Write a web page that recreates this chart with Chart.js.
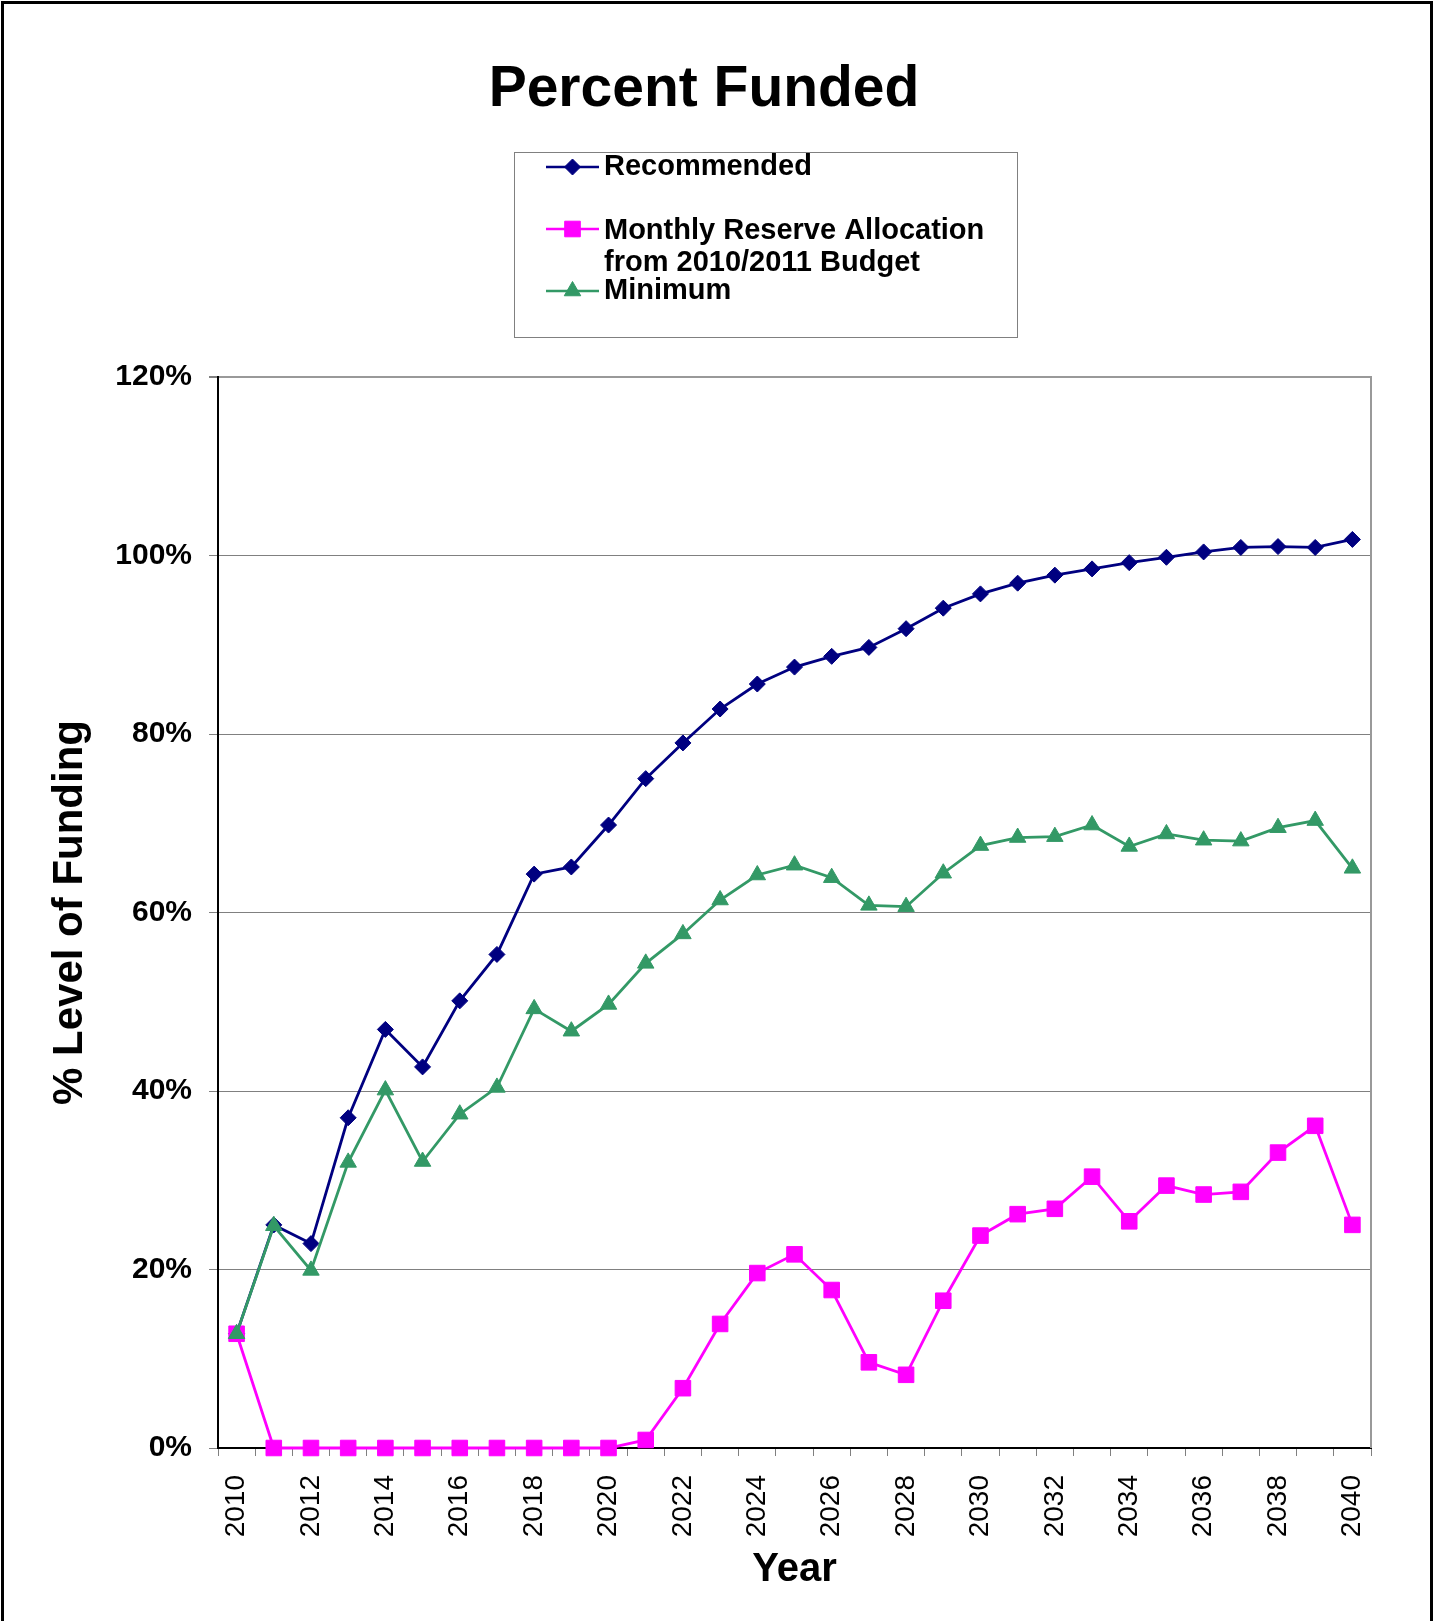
<!DOCTYPE html>
<html>
<head>
<meta charset="utf-8">
<title>Percent Funded</title>
<script src="https://cdn.jsdelivr.net/npm/chart.js@4.4.1/dist/chart.umd.min.js"></script>
<style>
  html, body { margin: 0; padding: 0; background: #ffffff; }
  #wrap { position: relative; width: 1435px; height: 1621px; }
  canvas { display: block; }
</style>
</head>
<body>
<div id="wrap"><canvas id="chart" width="1435" height="1621" style="width:1435px;height:1621px"></canvas></div>
<script>
// Fiscal years on the category axis
const years = [2010, 2011, 2012, 2013, 2014, 2015, 2016, 2017, 2018, 2019, 2020,
               2021, 2022, 2023, 2024, 2025, 2026, 2027, 2028, 2029, 2030,
               2031, 2032, 2033, 2034, 2035, 2036, 2037, 2038, 2039, 2040];

// Percent funded under each funding plan
const recommended = [12.8, 25.0, 22.9, 37.0, 46.9, 42.7, 50.1, 55.3, 64.3, 65.1, 69.8,
                     75.0, 79.0, 82.8, 85.6, 87.5, 88.7, 89.7, 91.8, 94.1, 95.7,
                     96.9, 97.8, 98.5, 99.2, 99.8, 100.4, 100.9, 101.0, 100.9, 101.8];

const monthlyReserve = [12.8, 0, 0, 0, 0, 0, 0, 0, 0, 0, 0,
                        0.9, 6.7, 13.9, 19.6, 21.7, 17.7, 9.6, 8.2, 16.5, 23.8,
                        26.2, 26.8, 30.4, 25.4, 29.4, 28.4, 28.7, 33.1, 36.1, 25.0];

const minimum = [12.8, 24.9, 19.9, 32.0, 40.1, 32.1, 37.4, 40.4, 49.2, 46.7, 49.7,
                 54.3, 57.6, 61.4, 64.2, 65.3, 63.9, 60.8, 60.65, 64.4, 67.5,
                 68.4, 68.5, 69.8, 67.4, 68.8, 68.1, 68.0, 69.5, 70.3, 64.95];

// Y axis range and tick step (percent)
const yMin = 0;
const yMax = 120;
const yStep = 20;

// Series names shown in the legend (second entry wraps onto two lines)
const seriesNames = [
  ['Recommended'],
  ['Monthly Reserve Allocation', 'from 2010/2011 Budget'],
  ['Minimum']
];

const FONT = '"Liberation Sans", Arial, Helvetica, sans-serif';
const NAVY = '#000080';
const MAGENTA = '#FF00FF';
const GREEN = '#339966';

function drawMarker(ctx, shape, x, y, color) {
  ctx.save();
  ctx.fillStyle = color;
  ctx.strokeStyle = color;
  ctx.lineWidth = 1;
  ctx.beginPath();
  if (shape === 'rectRot') {
    const r = 8;
    ctx.moveTo(x, y - r); ctx.lineTo(x + r, y); ctx.lineTo(x, y + r); ctx.lineTo(x - r, y);
  } else if (shape === 'rect') {
    const h = 7.8;
    ctx.rect(x - h, y - h, 2 * h, 2 * h);
  } else {
    const r = 9.5;
    ctx.moveTo(x, y - r);
    ctx.lineTo(x + r * Math.sin(2 * Math.PI / 3), y - r * Math.cos(2 * Math.PI / 3));
    ctx.lineTo(x + r * Math.sin(4 * Math.PI / 3), y - r * Math.cos(4 * Math.PI / 3));
  }
  ctx.closePath();
  ctx.fill();
  ctx.stroke();
  ctx.restore();
}

// Frame, heading, legend box and plot-area right edge
const decorations = {
  id: 'decorations',
  beforeDraw(chart) {
    const ctx = chart.ctx;
    ctx.save();
    ctx.fillStyle = '#ffffff';
    ctx.fillRect(0, 0, chart.width, chart.height);

    // outer frame (open at the bottom)
    ctx.strokeStyle = '#000000';
    ctx.lineWidth = 3;
    ctx.beginPath();
    ctx.moveTo(2.5, chart.height);
    ctx.lineTo(2.5, 2.5);
    ctx.lineTo(1431.5, 2.5);
    ctx.lineTo(1431.5, chart.height);
    ctx.stroke();

    // heading
    ctx.fillStyle = '#000000';
    ctx.font = 'bold 57px ' + FONT;
    ctx.textAlign = 'center';
    ctx.textBaseline = 'alphabetic';
    ctx.fillText('Percent Funded', 704, 106);

    // legend
    ctx.strokeStyle = '#808080';
    ctx.lineWidth = 1;
    ctx.strokeRect(514.5, 152.5, 503, 185);

    const ds = chart.data.datasets;
    const rows = [
      { markerY: 167, textY: [167] },
      { markerY: 229, textY: [231, 263] },
      { markerY: 291, textY: [291] }
    ];
    rows.forEach((row, i) => {
      const d = ds[i];
      ctx.strokeStyle = d.borderColor;
      ctx.lineWidth = 2.5;
      ctx.beginPath();
      ctx.moveTo(546, row.markerY);
      ctx.lineTo(599, row.markerY);
      ctx.stroke();
      drawMarker(ctx, d.pointStyle, 572.5, row.markerY, d.borderColor);
      ctx.fillStyle = '#000000';
      ctx.font = 'bold 29px ' + FONT;
      ctx.textAlign = 'left';
      ctx.textBaseline = 'middle';
      seriesNames[i].forEach((line, k) => ctx.fillText(line, 604, row.textY[k]));
    });
    ctx.restore();
  },
  beforeDatasetsDraw(chart) {
    const { ctx, chartArea } = chart;
    ctx.save();
    ctx.strokeStyle = '#999999';
    ctx.lineWidth = 2;
    ctx.beginPath();
    ctx.moveTo(chartArea.right, chartArea.top - 1);
    ctx.lineTo(chartArea.right, chartArea.bottom);
    ctx.stroke();
    ctx.restore();
  }
};

const lineDataset = (label, data, color, shape, radius, order) => ({
  label,
  data,
  borderColor: color,
  backgroundColor: color,
  borderWidth: 2.8,
  pointStyle: shape,
  pointRadius: radius,
  pointHoverRadius: radius,
  pointBorderWidth: 1,
  pointBackgroundColor: color,
  pointBorderColor: color,
  tension: 0,
  clip: false,
  order
});

new Chart(document.getElementById('chart'), {
  type: 'line',
  data: {
    labels: years.map(String),
    datasets: [
      lineDataset(seriesNames[0].join(' '), recommended, NAVY, 'rectRot', 8, 3),
      lineDataset(seriesNames[1].join(' '), monthlyReserve, MAGENTA, 'rect', 11, 2),
      lineDataset(seriesNames[2].join(' '), minimum, GREEN, 'triangle', 9.5, 1)
    ]
  },
  options: {
    responsive: false,
    animation: false,
    devicePixelRatio: 1,
    layout: { padding: { top: 377, right: 64, bottom: 0, left: 0 } },
    plugins: {
      legend: { display: false },
      title: { display: false },
      tooltip: { enabled: false }
    },
    scales: {
      x: {
        type: 'category',
        offset: true,
        grid: {
          offset: true,
          drawOnChartArea: false,
          drawTicks: true,
          tickLength: 8,
          tickColor: '#808080',
          lineWidth: 1
        },
        border: { color: '#000000', width: 2 },
        ticks: {
          autoSkip: false,
          minRotation: 90,
          maxRotation: 90,
          padding: 19,
          color: '#000000',
          font: { family: FONT, size: 28 },
          callback: function (value, index) {
            const y = years[index];
            return y % 2 === 0 ? String(y) : '';
          }
        },
        title: {
          display: true,
          text: 'Year',
          color: '#000000',
          font: { family: FONT, size: 40, weight: 'bold' },
          padding: { top: 0, bottom: 27 }
        },
        afterFit(scale) { scale.height = 173; }
      },
      y: {
        min: yMin,
        max: yMax,
        ticks: {
          stepSize: yStep,
          padding: 17,
          color: '#000000',
          font: { family: FONT, size: 30, weight: 'bold' },
          callback: (v) => v + '%'
        },
        grid: {
          color: (c) => c.tick && c.tick.value === yMin ? 'rgba(0,0,0,0)'
                       : (c.tick && c.tick.value === yMax ? '#999999' : '#808080'),
          lineWidth: (c) => c.tick && c.tick.value === yMax ? 2 : 1,
          tickLength: 9,
          tickColor: '#808080'
        },
        border: { color: '#000000', width: 2 },
        title: {
          display: true,
          text: '% Level of Funding',
          color: '#000000',
          font: { family: FONT, size: 42, weight: 'bold' },
          padding: { top: 45, bottom: 0 }
        },
        afterFit(scale) { scale.width = 218; }
      }
    }
  },
  plugins: [decorations]
});
</script>
</body>
</html>
